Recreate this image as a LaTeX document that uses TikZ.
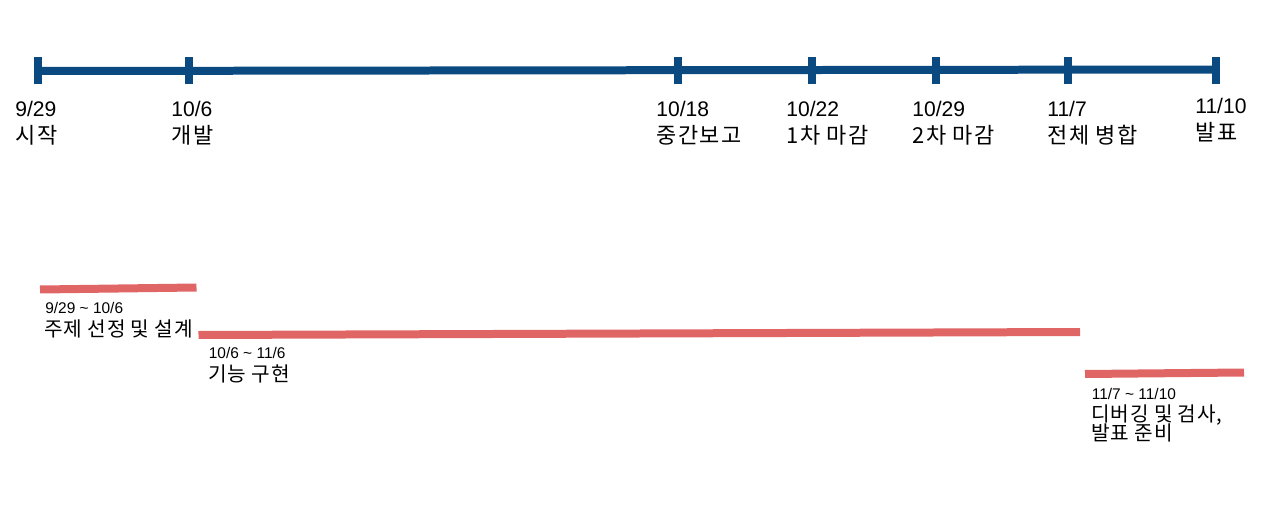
\documentclass[tikz,border=0pt]{standalone}
\usepackage{fontspec}
\setmainfont{Liberation Sans}
\newfontfamily\kr[LetterSpace=7]{Noto Sans CJK KR}
\newfontfamily\krs[LetterSpace=4]{Noto Sans CJK KR}
\usepackage{xcolor}
\usetikzlibrary{positioning}
\definecolor{tlblue}{HTML}{0B4A80}
\definecolor{barred}{HTML}{E06666}

\begin{document}
\begin{tikzpicture}[
    x=0.02cm, y=-0.02cm,
    every node/.style={inner sep=0pt, anchor=base west},
    datelab/.style={font=\fontsize{12}{14}\selectfont},
    eventlab/.style={font=\kr\fontsize{12.5}{14}\selectfont},
    spanlab/.style={font=\fontsize{8.8}{10}\selectfont},
    tasklab/.style={font=\krs\fontsize{11.5}{13}\selectfont},
    axis/.style={draw=tlblue, line width=0.16cm},
    tickmark/.style={draw=tlblue, line width=0.16cm},
    bar/.style={draw=barred, line width=0.16cm}
]
\useasboundingbox (0,0) rectangle (1272,510);

% timeline
\coordinate (start) at (38,71);
\coordinate (end) at (1215.5,69.5);
\draw[axis] (start) -- (end);
\foreach \tx/\lx/\dy/\d/\e [count=\i] in {
    38/15/0/9\slash 29/시작, 189/171/0/10\slash 6/개발,
    677.5/656/0/10\slash 18/중간보고, 812/786/0/10\slash 22/1차 마감,
    935.5/912/0/10\slash 29/2차 마감, 1067.5/1047/0/11\slash 7/전체 병합,
    1215.5/1195/-2.5/11\slash 10/발표} {
  \coordinate (t\i) at (\tx,70.5);
  \draw[tickmark] ([yshift=-0.276cm]t\i) -- ([yshift=0.276cm]t\i);
  \node[datelab] (d\i) at (\lx,116.5+\dy) {\d};
  \node[eventlab] (e\i) at (\lx,143.5+\dy) {\e};
}

% work periods
\coordinate (b1s) at (40,289.5);   \coordinate (b1e) at (196.5,287.5);
\coordinate (b2s) at (198.5,335);  \coordinate (b2e) at (1080,332);
\coordinate (b3s) at (1085,374);   \coordinate (b3e) at (1244,372.5);
\draw[bar] (b1s) -- (b1e);
\draw[bar] (b2s) -- (b2e);
\draw[bar] (b3s) -- (b3e);

\node[spanlab] (s1) at (45,313) {9/29 \textasciitilde{} 10/6};
\node[tasklab] (w1) at (44,336) {주제 선정 및 설계};
\node[spanlab] (s2) at (208.5,358) {10/6 \textasciitilde{} 11/6};
\node[tasklab] (w2) at (208,381) {기능 구현};
\node[spanlab] (s3) at (1091.5,399) {11/7 \textasciitilde{} 11/10};
\node[tasklab] (w3) at (1091,421) {디버깅 및 검사,};
\node[tasklab] (w4) at (1091,440.5) {발표 준비};
\end{tikzpicture}
\end{document}
